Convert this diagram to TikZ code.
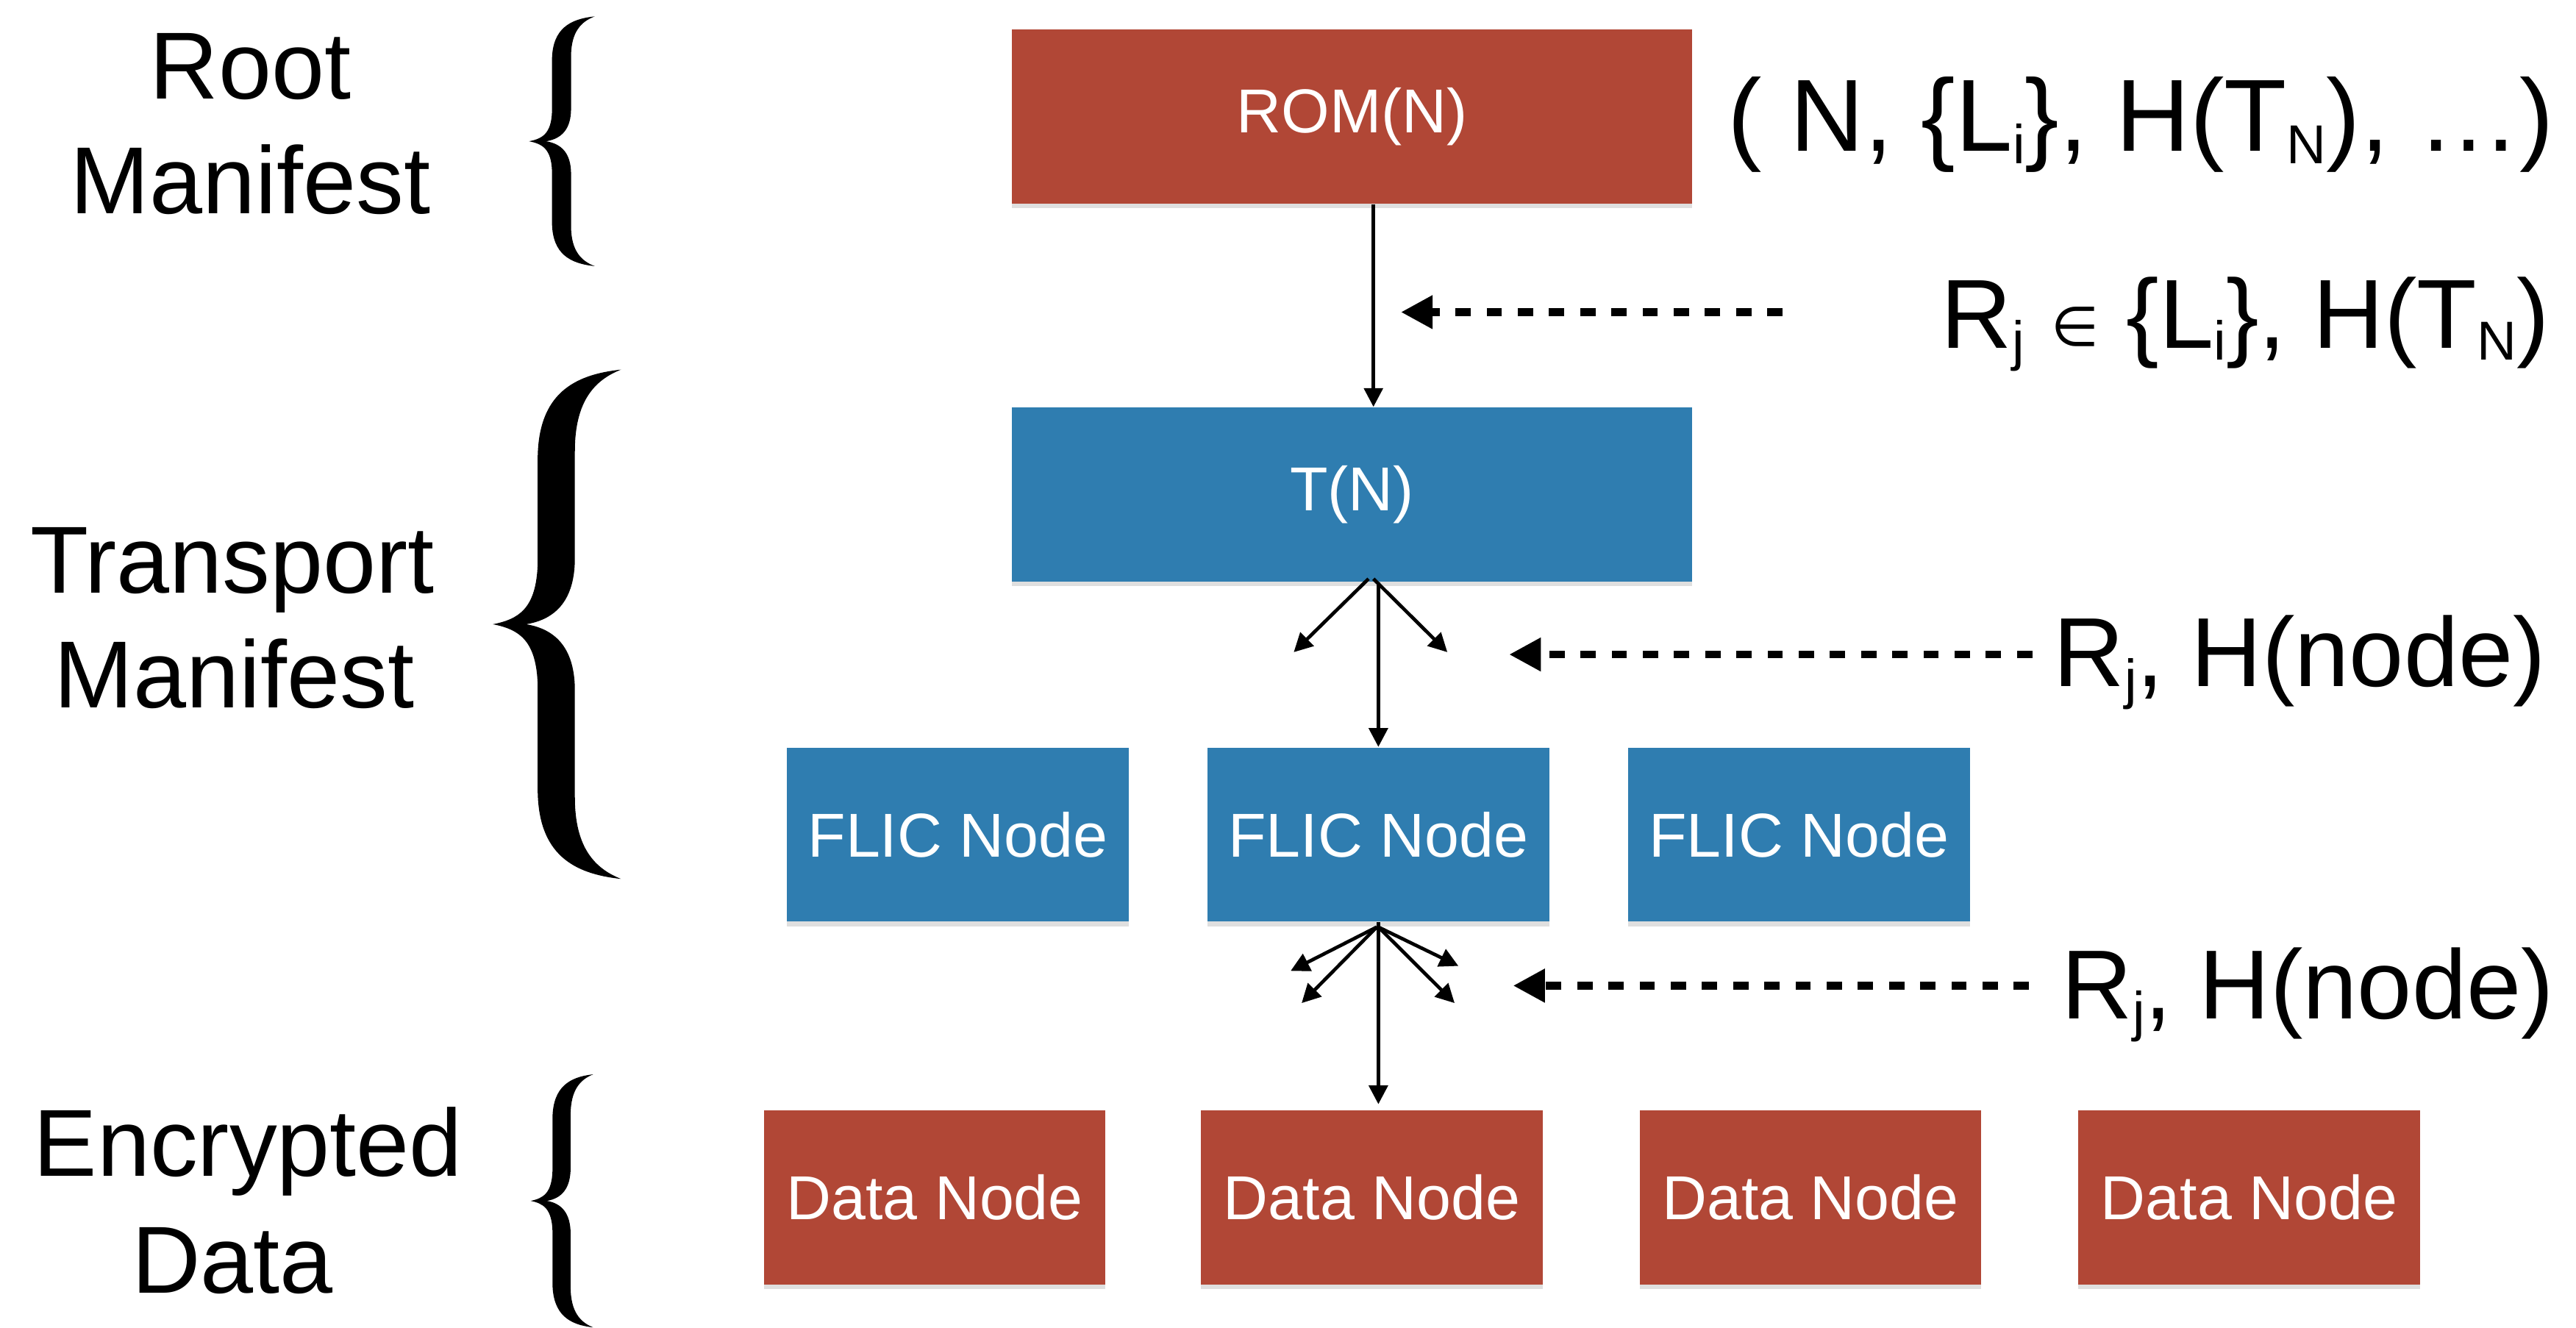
\documentclass[tikz,border=0pt]{standalone}
\usepackage{fontspec}
\setmainfont{Liberation Sans}
\newfontfamily\djv{DejaVu Sans}
\usetikzlibrary{arrows.meta,shadows,calc}
\definecolor{romred}{RGB}{177,71,54}
\definecolor{flicblue}{RGB}{47,125,176}
\newcommand\lowsub[1]{\raisebox{-0.12em}{\fontsize{19}{19}\selectfont #1}}
\newcommand\smallelem{\raisebox{0.02em}{\djv\fontsize{19}{19}\selectfont ∈}}
\begin{document}
\begin{tikzpicture}[x=0.02cm,y=-0.02cm,
  box/.style={rectangle,inner sep=0pt,text=white,font=\fontsize{21.5}{26}\selectfont,
    drop shadow={shadow xshift=0pt,shadow yshift=-1.6pt,opacity=0.25}},
  widebox/.style={box,minimum width=8.28cm,minimum height=2.12cm},
  smallbox/.style={box,minimum width=4.16cm,minimum height=2.12cm},
  redw/.style={widebox,fill=romred},
  bluew/.style={widebox,fill=flicblue},
  reds/.style={smallbox,fill=romred},
  blues/.style={smallbox,fill=flicblue},
  lefttext/.style={font=\fontsize{33}{40}\selectfont,inner sep=0pt,anchor=base},
  rlabel/.style={font=\fontsize{34}{40}\selectfont,inner sep=0pt,anchor=base east},
  arr/.style={line width=1.2pt,-{Triangle[length=6.5pt,width=6.5pt]}},
  darr/.style={line width=2.7pt,dash pattern=on 5.3pt off 5.5pt,-{Triangle[length=11pt,width=11pt]}},
  curlybrace/.pic={
    \fill (1,0) .. controls (0.62,0.01) and (0.36,0.05) .. (0.35,0.17)
      -- (0.35,0.38)
      .. controls (0.34,0.47) and (0.2,0.49) .. (0,0.5)
      .. controls (0.2,0.51) and (0.34,0.53) .. (0.35,0.62)
      -- (0.35,0.83)
      .. controls (0.36,0.95) and (0.62,0.99) .. (1,1)
      .. controls (0.8,0.98) and (0.64,0.94) .. (0.64,0.84)
      -- (0.64,0.63)
      .. controls (0.64,0.55) and (0.5,0.51) .. (0.26,0.5)
      .. controls (0.5,0.49) and (0.64,0.45) .. (0.64,0.37)
      -- (0.64,0.16)
      .. controls (0.64,0.06) and (0.8,0.02) .. (1,0)
      -- cycle;
  }
]
\useasboundingbox[fill=white] (0,0) rectangle (1568,808);

% boxes
\node[redw] (rom) at (823,71) {ROM(N)};
\node[bluew] (tn) at (823,301) {T(N)};
\node[blues] (flic1) at (583,508) {FLIC Node};
\node[blues] (flic2) at (839,508) {FLIC Node};
\node[blues] (flic3) at (1095,508) {FLIC Node};
\node[reds] (data1) at (569,729) {Data Node};
\node[reds] (data2) at (835,729) {Data Node};
\node[reds] (data3) at (1102,729) {Data Node};
\node[reds] (data4) at (1369,729) {Data Node};

% left labels
\node[lefttext] (root1) at (152.5,60) {Root};
\node[lefttext] (root2) at (152.5,130) {Manifest};
\node[lefttext] (trans1) at (141.5,361) {Transport};
\node[lefttext] (trans2) at (142.5,431) {Manifest};
\node[lefttext] (enc1) at (151,716) {Encrypted};
\node[lefttext] (enc2) at (141.5,787) {Data};

% braces
\pic[xscale=40,yscale=152] at (322,10) {curlybrace};
\pic[xscale=78,yscale=310] at (300,225) {curlybrace};
\pic[xscale=38,yscale=154] at (323,654) {curlybrace};

% right labels
\node[rlabel,font=\fontsize{35.5}{40}\selectfont] (lab1) at (1555,92) {( N, \{L\lowsub{i}\}, H(T\lowsub{N}), …)};
\node[rlabel] (lab2) at (1552,212) {R\lowsub{j} \smallelem\ \{L\lowsub{i}\}, H(T\lowsub{N})};
\node[rlabel] (lab3) at (1550,418) {R\lowsub{j}, H(node)};
\node[rlabel] (lab4) at (1555,620) {R\lowsub{j}, H(node)};

% coordinates of free ends
\coordinate (tfl) at (787.5,397);
\coordinate (tfr) at (881,397);
\coordinate (ffl1) at (785.6,591);
\coordinate (ffl2) at (792.3,610.6);
\coordinate (ffr1) at (887.7,588);
\coordinate (ffr2) at (885.4,610.6);
\coordinate (d1s) at (1085,190);
\coordinate (d1e) at (852.7,190);
\coordinate (d2s) at (1237,398.4);
\coordinate (d2e) at (918.6,398.4);
\coordinate (d3s) at (1235,600);
\coordinate (d3e) at (921,600);

% solid connectors
\draw[arr] ($(rom.south)+(13,0)$) -- ($(tn.north)+(13,0)$);
\draw[arr] (tn.south -| flic2.north) -- (flic2.north);
\draw[arr] ($(tn.south)+(10,-2)$) -- (tfl);
\draw[arr] ($(tn.south)+(13,-2)$) -- (tfr);
\draw[arr,shorten >=2pt] (flic2.south) -- (flic2.south |- data2.north);
\draw[arr] ($(flic2.south)+(-1,3)$) -- (ffl1);
\draw[arr] ($(flic2.south)+(-1,3)$) -- (ffl2);
\draw[arr] ($(flic2.south)+(0,3)$) -- (ffr1);
\draw[arr] ($(flic2.south)+(0,3)$) -- (ffr2);

% dashed connectors
\draw[darr] (d1s) -- (d1e);
\draw[darr] (d2s) -- (d2e);
\draw[darr] (d3s) -- (d3e);
\end{tikzpicture}
\end{document}
